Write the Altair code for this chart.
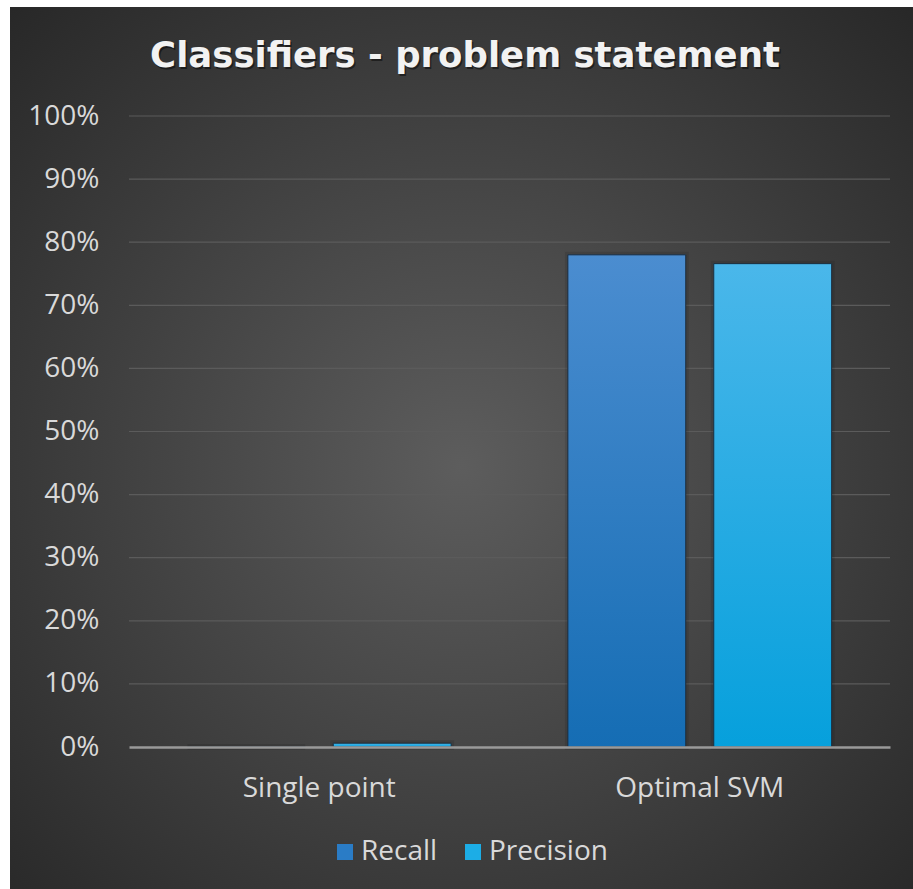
import altair as alt
import pandas as pd

categories = ["Single point", "Optimal SVM"]
series = ["Recall", "Precision"]
recall = [0.0, 0.780]
precision = [0.006, 0.766]
y_ticks = [0.0, 0.1, 0.2, 0.3, 0.4, 0.5, 0.6, 0.7, 0.8, 0.9, 1.0]

rows = []
for i, cat in enumerate(categories):
    rows.append({"classifier": cat, "metric": "Recall", "value": recall[i]})
    rows.append({"classifier": cat, "metric": "Precision", "value": precision[i]})
df = pd.DataFrame(rows)

W, H = 761, 631          # plot area
PAD_L, PAD_T = 129, 116  # space for axis labels and title
FONT = "Open Sans"
LABEL_SIZE = 28

y_scale = alt.Scale(domain=[0, 1], nice=False)
y_axis = alt.Axis(title=None, format=".0%", values=y_ticks,
                  labelFontSize=LABEL_SIZE, labelColor="#d9d9d9", labelFont=FONT,
                  labelPadding=30, ticks=False, domain=False, grid=False, zindex=1)

x_enc = alt.X("classifier:N", sort=categories,
              scale=alt.Scale(paddingInner=0, paddingOuter=0),
              axis=alt.Axis(title=None, labelAngle=0, labelFontSize=LABEL_SIZE,
                            labelColor="#d9d9d9", labelFont=FONT,
                            labelPadding=27, ticks=False, zindex=1,
                            domainColor="#9a9a9a", domainWidth=2.5))
xoff_enc = alt.XOffset("metric:N", sort=series,
                       scale=alt.Scale(paddingInner=0.192, paddingOuter=0.4))
y_enc = alt.Y("value:Q", scale=y_scale, axis=y_axis)

# Dark backdrop with a soft radial glow
backdrop = alt.Chart(pd.DataFrame({"k": [0]})).mark_rect(
    fill=alt.RadialGradient(
        gradient="radial", x1=0.5, y1=0.52, r1=0, x2=0.5, y2=0.52, r2=0.75,
        stops=[alt.GradientStop(offset=0, color="#5d5d5d"),
               alt.GradientStop(offset=1, color="#252525")]),
).encode(
    x=alt.value(10 - PAD_L), x2=alt.value(913 - PAD_L),
    y=alt.value(7 - PAD_T), y2=alt.value(889 - PAD_T),
)

# Horizontal gridlines behind the bars
grid = alt.Chart(pd.DataFrame({"value": y_ticks[1:]})).mark_rule(
    color="#5b5b5b", strokeWidth=1.2
).encode(y=y_enc)

# Solid bars carry the legend; their wide faint stroke gives a soft shadow
base_bars = alt.Chart(df).mark_bar(
    stroke="#000000", strokeOpacity=0.1, strokeWidth=6
).encode(
    x=x_enc, xOffset=xoff_enc, y=y_enc,
    color=alt.Color("metric:N", sort=series,
                    scale=alt.Scale(domain=series, range=["#2a7cc6", "#1cade6"]),
                    legend=alt.Legend(title=None, orient="none", direction="horizontal",
                                      legendX=331 - PAD_L, legendY=838 - PAD_T,
                                      labelFontSize=LABEL_SIZE, labelColor="#d9d9d9",
                                      labelFont=FONT, symbolType="square",
                                      symbolSize=256, symbolStrokeWidth=0,
                                      symbolOpacity=1,
                                      columnPadding=21, labelOffset=2, zindex=1)),
)

def shaded(metric, top, bottom):
    return alt.Chart(df).transform_filter(alt.datum.metric == metric).mark_bar(
        fill=alt.LinearGradient(
            gradient="linear", x1=0, y1=0, x2=0, y2=1,
            stops=[alt.GradientStop(offset=0, color=top),
                   alt.GradientStop(offset=1, color=bottom)]),
        stroke="#1d2a38", strokeWidth=1,
    ).encode(x=x_enc, xOffset=xoff_enc, y=y_enc)

recall_bars = shaded("Recall", "#4b8dd0", "#156db4")
precision_bars = shaded("Precision", "#4ab7ea", "#06a0dc")

title_txt = "Classifiers - problem statement"
TITLE_FONT = "DejaVu Sans"
title_shadow = alt.Chart(pd.DataFrame({"t": [title_txt]})).mark_text(
    font=TITLE_FONT, fontSize=35.5, fontWeight="bold", color="#000000", opacity=0.45,
    align="center", baseline="alphabetic",
).encode(x=alt.value(465 - PAD_L + 1.5), y=alt.value(67 - PAD_T + 2), text="t:N")
title = alt.Chart(pd.DataFrame({"t": [title_txt]})).mark_text(
    font=TITLE_FONT, fontSize=35.5, fontWeight="bold", color="#f2f2f2",
    align="center", baseline="alphabetic",
).encode(x=alt.value(465 - PAD_L), y=alt.value(67 - PAD_T), text="t:N")

chart = alt.layer(backdrop, grid, base_bars, recall_bars, precision_bars,
                  title_shadow, title).properties(
    width=W, height=H,
    padding={"left": PAD_L, "top": PAD_T, "right": 913 - PAD_L - W,
             "bottom": 889 - PAD_T - H},
    autosize=alt.AutoSizeParams(type="none"),
    background="#ffffff",
).configure_view(stroke=None)

chart.save("out.html", embed_options={"renderer": "svg", "actions": False})
